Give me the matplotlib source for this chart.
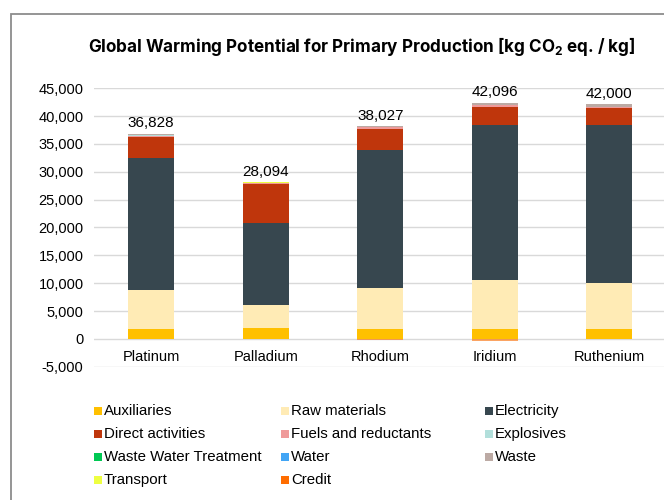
import matplotlib
matplotlib.use("Agg")
import matplotlib.pyplot as plt
from matplotlib.patches import Rectangle
import numpy as np

categories = ["Platinum", "Palladium", "Rhodium", "Iridium", "Ruthenium"]
totals = [36828, 28094, 38027, 42096, 42000]

auxiliaries = [1800, 2000, 1800, 1850, 1850]
raw_materials = [7050, 4000, 7330, 8770, 8100]
electricity = [23580, 14760, 24700, 27840, 28390]
direct_activities = [3890, 7020, 3840, 3170, 3180]
fuels_reductants = [150, 180, 300, 300, 120]
explosives = [150, 30, 40, 60, 20]
waste_water = [10, 10, 10, 10, 10]
water = [10, 10, 10, 10, 10]
waste = [180, 60, 130, 370, 415]
transport = [8, 24, 17, 16, 5]
credit = [0, 0, -150, -300, -100]

series = [
    ("Auxiliaries", auxiliaries, "#FFC000"),
    ("Raw materials", raw_materials, "#FFEBB5"),
    ("Electricity", electricity, "#37474F"),
    ("Direct activities", direct_activities, "#BF360C"),
    ("Fuels and reductants", fuels_reductants, "#EF9A9A"),
    ("Explosives", explosives, "#B2DFDB"),
    ("Waste Water Treatment", waste_water, "#00C853"),
    ("Water", water, "#42A5F5"),
    ("Waste", waste, "#BCAAA4"),
    ("Transport", transport, "#EEFF41"),
]
credit_series = ("Credit", credit, "#FF6D00")

plt.rcParams['font.family'] = ['Liberation Sans', 'DejaVu Sans']

fig = plt.figure(figsize=(6.64, 5.0), dpi=100)
W, H = 664, 500
ax = fig.add_axes([94 / W, 1 - 366.7 / H, 572.5 / W, (366.7 - 88.3) / H])

x = np.arange(len(categories))
width = 0.40
bottom = np.zeros(len(categories))
for name, vals, col in series:
    v = np.array(vals, dtype=float)
    ax.bar(x, v, width, bottom=bottom, color=col, linewidth=0, zorder=3)
    bottom += v
ax.bar(x, np.array(credit_series[1], dtype=float), width, color=credit_series[2],
       linewidth=0, zorder=3, alpha=0.6)

for xi, top, tot in zip(x, bottom, totals):
    ax.annotate(f"{tot:,}", (xi, top), xytext=(0, 2.5), textcoords='offset points',
                ha='center', va='bottom', fontsize=11, color='#000000', zorder=4)

ax.set_xlim(-0.5, len(categories) - 0.5)
ax.set_ylim(-5000, 45000)
ax.set_yticks(np.arange(-5000, 45001, 5000))
ax.set_yticklabels([f"{v:,}" for v in range(-5000, 45001, 5000)])
ax.grid(axis='y', color='#d9d9d9', linewidth=1, zorder=0)
ax.set_axisbelow(True)
for s in ax.spines.values():
    s.set_visible(False)
ax.spines['bottom'].set_position(('data', 0))
ax.set_xticks(x)
ax.set_xticklabels(categories)
ax.tick_params(axis='x', length=0, pad=8, labelsize=10.5)
ax.tick_params(axis='y', length=0, pad=7.5, labelsize=10.5)

fig.text(362 / W, 1 - 46 / H,
         r"Global Warming Potential for Primary Production [kg CO$_\mathregular{2}$ eq. / kg]",
         ha='center', va='center', fontsize=12.3, fontweight='bold', family=['Inter', 'DejaVu Sans'])

# frame
fig.add_artist(Rectangle((11 / W, -0.1), 1.2, (H - 14) / H + 0.1, transform=fig.transFigure,
                         fill=False, edgecolor='#8c8c8c', linewidth=1.3))

# legend
legend_items = [(n, c) for n, _, c in series] + [(credit_series[0], credit_series[2])]
col_x = [94, 281, 485]
row_y = [411, 434, 457, 480]
sq = 8
for i, (name, col) in enumerate(legend_items):
    r, c = divmod(i, 3)
    xx, yy = col_x[c], row_y[r]
    fig.add_artist(Rectangle((xx / W, 1 - (yy + sq / 2) / H), sq / W, sq / H,
                             transform=fig.transFigure, facecolor=col, edgecolor='none'))
    fig.text((xx + sq + 2) / W, 1 - yy / H, name, ha='left', va='center', fontsize=10.8)

fig.savefig("out.png", dpi=100)
